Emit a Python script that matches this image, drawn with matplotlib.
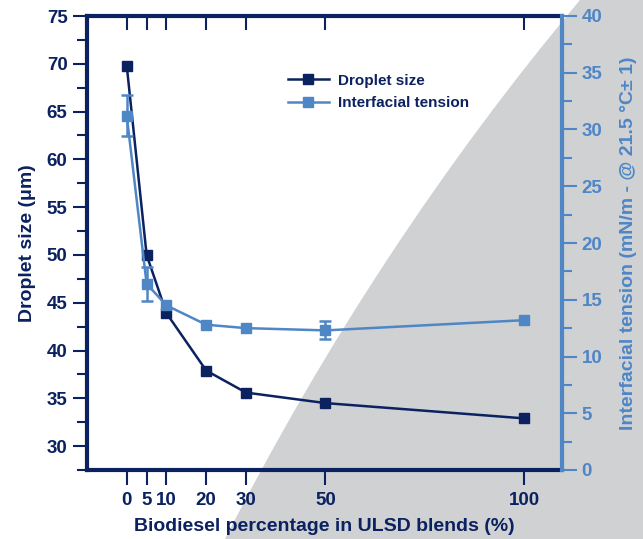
#droplet size and interfacial tension vs biodiesel blend
import matplotlib.pyplot as plt
from matplotlib.path import Path
from matplotlib.patches import PathPatch
from matplotlib.lines import Line2D
from matplotlib.ticker import MultipleLocator, FixedLocator

plt.rcParams['font.family'] = ['Liberation Sans', 'DejaVu Sans']
plt.rcParams['font.weight'] = 'bold'

blend = [0, 5, 10, 20, 30, 50, 100]
droplet = [69.8, 50.0, 43.9, 37.9, 35.6, 34.5, 32.9]
tension = [31.2, 16.4, 14.5, 12.8, 12.5, 12.3, 13.2]
tension_err = [1.8, 1.5, 0, 0, 0, 0.8, 0]

navy = '#0b2160'
blue = '#4f86c6'
gray = '#d0d1d3'

fig = plt.figure(figsize=(6.43, 5.39), dpi=100)

# gray curved backdrop (slide decoration)
W, H = 643., 539.
verts = [(225/W, 0), (375/W, (H-245)/H), (580/W, 1), (1, 1), (1, 0), (225/W, 0)]
codes = [Path.MOVETO, Path.CURVE3, Path.CURVE3, Path.LINETO, Path.LINETO, Path.CLOSEPOLY]
fig.patches.append(PathPatch(Path(verts, codes), transform=fig.transFigure,
                             facecolor=gray, edgecolor='none', zorder=-5))

ax = fig.add_axes([87/W, (H-470)/H, (562-87)/W, (470-16)/H])
ax.set_facecolor('none')
ax2 = ax.twinx()

ax.plot(blend, droplet, marker='s', ms=6.5, lw=1.8, color=navy, zorder=3)
ax2.plot(blend, tension, marker='s', ms=6.5, lw=1.8, color=blue)
# error bars only where measured
ex = [b for b, e in zip(blend, tension_err) if e > 0]
ey = [t for t, e in zip(tension, tension_err) if e > 0]
ee = [e for e in tension_err if e > 0]
ax2.errorbar(ex, ey, yerr=ee, fmt='none', ecolor=blue, capsize=4,
             elinewidth=1.8, capthick=1.8)

ax.set_xlim(-10, 109.5)
ax2.set_ylim(0, 40)

ax.xaxis.set_major_locator(FixedLocator(blend))
ax.yaxis.set_minor_locator(MultipleLocator(2.5))
ax2.yaxis.set_major_locator(MultipleLocator(5))
ax2.yaxis.set_minor_locator(MultipleLocator(2.5))
ax.set_yticks(range(30, 80, 5))
ax.set_ylim(27.5, 75)

for s in ['left', 'top', 'bottom']:
    ax.spines[s].set_color(navy)
    ax.spines[s].set_linewidth(3)
    ax2.spines[s].set_visible(False)
ax.spines['right'].set_visible(False)
ax2.spines['right'].set_color(blue)
ax2.spines['right'].set_linewidth(3)

ax.tick_params(axis='y', which='major', direction='out', length=10, width=1.5,
               color=navy, labelcolor=navy, labelsize=13.5, pad=4)
ax.tick_params(axis='y', which='minor', direction='out', length=7, width=1.5, color=navy)
ax.tick_params(axis='x', which='major', direction='out', length=11, width=1.5,
               color=navy, labelcolor=navy, labelsize=13.5, top=True, pad=5)
ax2.tick_params(axis='y', which='major', direction='out', length=11, width=1.5,
                color=blue, labelcolor=blue, labelsize=13.5, pad=3)
ax2.tick_params(axis='y', which='minor', direction='out', length=7, width=1.5, color=blue)

# top ticks point inward
for t in ax.xaxis.get_major_ticks():
    t.tick2line.set_marker(3)
    t.tick2line.set_markersize(10)

ax.set_xlabel('Biodiesel percentage in ULSD blends (%)', color=navy, fontsize=14,
              fontweight='bold', labelpad=6)
ax.set_ylabel('Droplet size (μm)', color=navy, fontsize=14, fontweight='bold', labelpad=8)
ax2.set_ylabel('Interfacial tension (mN/m - @ 21.5 °C± 1)', color=blue, fontsize=14,
               fontweight='bold', labelpad=13)

handles = [Line2D([], [], color=navy, marker='s', ms=6.5, lw=1.8),
           Line2D([], [], color=blue, marker='s', ms=6.5, lw=1.8)]
fig.legend(handles, ['Droplet size', 'Interfacial tension'], loc='upper left',
           bbox_to_anchor=(274/W, (H-60)/H), frameon=False, fontsize=11,
           handlelength=2.7, handletextpad=0.6, labelspacing=0.55, labelcolor=navy)

fig.savefig('out.png', dpi=100)
